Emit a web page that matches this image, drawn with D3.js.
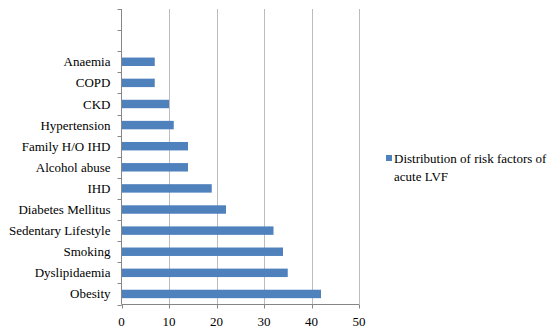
<!DOCTYPE html>
<html>
<head>
<meta charset="utf-8">
<script src="https://cdn.jsdelivr.net/npm/d3@7"></script>
<style>
  html, body { margin: 0; padding: 0; background: #fff; }
  svg { display: block; }
</style>
</head>
<body>
<svg id="chart" width="551" height="327"></svg>
<script>
// Risk factors, listed from the bottom of the chart upward
const categories = ["Obesity", "Dyslipidaemia", "Smoking", "Sedentary Lifestyle",
  "Diabetes Mellitus", "IHD", "Alcohol abuse", "Family H/O IHD",
  "Hypertension", "CKD", "COPD", "Anaemia"];
const values = [42, 35, 34, 32, 22, 19, 14, 14, 11, 10, 7, 7];
// Two unlabeled slots sit above the last category
const emptySlots = ["", " "];
const xTicks = [0, 10, 20, 30, 40, 50];
const seriesName = "Distribution of risk factors of acute LVF";
const legendLines = ["Distribution of risk factors of", "acute LVF"];

const FONT = "'Liberation Serif', 'Times New Roman', 'DejaVu Serif', serif";

const svg = d3.select("#chart")
  .attr("font-family", FONT)
  .style("font-family", FONT);
const plotLeft = 121.5, plotRight = 359, plotTop = 9, plotBottom = 304.5;

const x = d3.scaleLinear().domain([0, 50]).range([plotLeft, plotRight]);
const slots = categories.concat(emptySlots);
const y = d3.scaleBand().domain(slots).range([plotBottom, plotTop]).paddingInner(0.6).paddingOuter(0.3);
const yTick = d3.scaleBand().domain(slots).range([plotBottom, plotTop]);

// Vertical gridlines
svg.append("g").selectAll("line").data(xTicks.filter(d => d > 0)).join("line")
  .attr("x1", d => Math.round(x(d)) + 0.5).attr("x2", d => Math.round(x(d)) + 0.5)
  .attr("y1", plotTop).attr("y2", plotBottom)
  .attr("stroke", "#bcbcbc").attr("stroke-width", 1);

// Bars
svg.append("g").selectAll("rect").data(categories).join("rect")
  .attr("x", x(0))
  .attr("y", d => y(d))
  .attr("width", (d, i) => x(values[i]) - x(0))
  .attr("height", y.bandwidth())
  .attr("fill", "#4f81bd");

// Category axis
const yAxis = svg.append("g").attr("transform", `translate(${plotLeft},0)`);
yAxis.append("line").attr("x1", 0).attr("x2", 0).attr("y1", plotTop).attr("y2", plotBottom)
  .attr("stroke", "#868686");
const boundaries = slots.map(s => yTick(s)).concat([plotBottom]);
yAxis.selectAll("line.tick").data(boundaries).join("line").attr("class", "tick")
  .attr("x1", -4).attr("x2", 0)
  .attr("y1", d => Math.round(d) + 0.5).attr("y2", d => Math.round(d) + 0.5)
  .attr("stroke", "#868686");
yAxis.selectAll("text").data(categories).join("text")
  .attr("x", -11)
  .attr("y", d => yTick(d) + yTick.bandwidth() / 2)
  .attr("dy", "0.35em")
  .attr("text-anchor", "end")
  .attr("font-size", "13px")
  .attr("fill", "#000")
  .text(d => d);

// Value axis
const xAxis = svg.append("g").attr("transform", `translate(0,${plotBottom})`);
xAxis.append("line").attr("x1", plotLeft).attr("x2", plotRight).attr("y1", 0).attr("y2", 0)
  .attr("stroke", "#868686");
xAxis.selectAll("line.tick").data(xTicks).join("line").attr("class", "tick")
  .attr("x1", d => Math.round(x(d)) + 0.5).attr("x2", d => Math.round(x(d)) + 0.5)
  .attr("y1", 0).attr("y2", 4)
  .attr("stroke", "#868686");
xAxis.selectAll("text").data(xTicks).join("text")
  .attr("x", d => x(d))
  .attr("y", 21)
  .attr("text-anchor", "middle")
  .attr("font-size", "13px")
  .attr("fill", "#000")
  .text(d => d);

// Legend
const legend = svg.append("g").attr("aria-label", seriesName);
legend.append("rect").attr("x", 386).attr("y", 155).attr("width", 6).attr("height", 6)
  .attr("fill", "#4f81bd");
legend.selectAll("text").data(legendLines).join("text")
  .attr("x", 394)
  .attr("y", (d, i) => 163 + i * 18)
  .attr("font-size", "13px")
  .attr("fill", "#000")
  .text(d => d);
</script>
</body>
</html>
